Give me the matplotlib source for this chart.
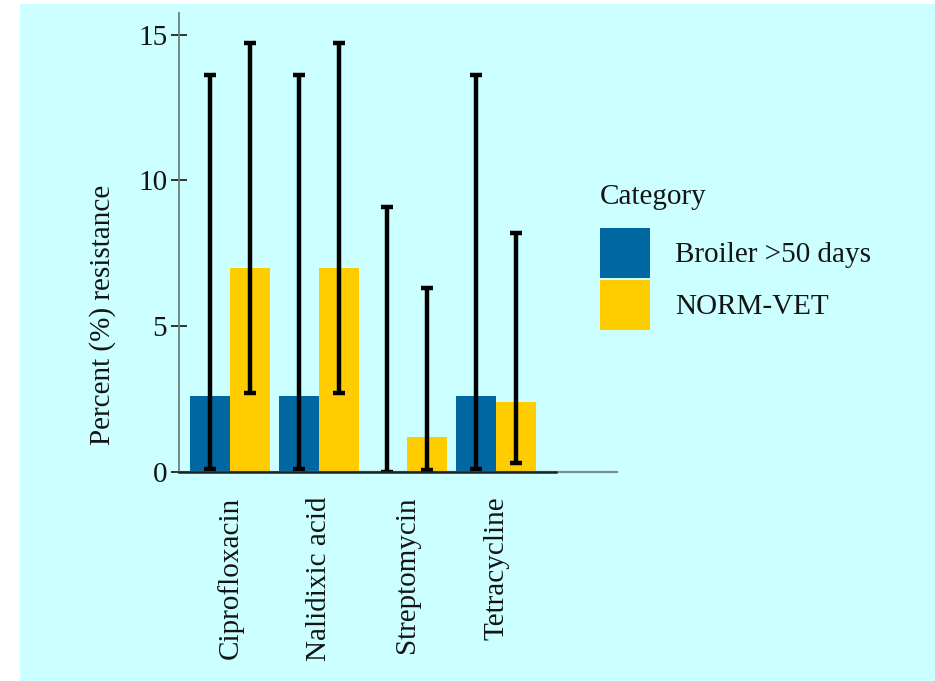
import matplotlib
matplotlib.use("Agg")
import matplotlib.pyplot as plt
from matplotlib.patches import Patch, Rectangle
import numpy as np

# Resistance data per antimicrobial
categories = ["Ciprofloxacin", "Nalidixic acid", "Streptomycin", "Tetracycline"]
series_names = ["Broiler >50 days", "NORM-VET"]

broiler_pct = [2.6, 2.6, 0.0, 2.6]
broiler_low = [0.1, 0.1, 0.0, 0.1]
broiler_high = [13.6, 13.6, 9.1, 13.6]

normvet_pct = [7.0, 7.0, 1.2, 2.4]
normvet_low = [2.7, 2.7, 0.05, 0.3]
normvet_high = [14.7, 14.7, 6.3, 8.2]

y_ticks = [0, 5, 10, 15]

BLUE = "#0067A2"
YELLOW = "#FFCC00"
BG = "#CCFFFF"
TEXT = "#141414"

plt.rcParams["font.family"] = ["Liberation Serif", "DejaVu Serif"]
FS = 21

fig = plt.figure(figsize=(9.35, 6.81), dpi=100)
fig.patch.set_facecolor("white")
# cyan panel behind everything
fig.add_artist(Rectangle((20 / 935, 0), 1 - 20 / 935, 1 - 4 / 681,
                         transform=fig.transFigure, facecolor=BG,
                         edgecolor="none", zorder=-10))

ax = fig.add_axes([179 / 935, 1 - 471.7 / 681, (617 - 179) / 935, (471.7 - 13) / 681])
ax.set_facecolor("none")

x = np.arange(len(categories))
w = 0.45

def draw_series(offset, vals, lo, hi, color):
    vals = np.array(vals)
    ax.bar(x + offset, vals, width=w, color=color, edgecolor="none", zorder=2)
    yerr = np.vstack([np.clip(vals - np.array(lo), 0, None),
                      np.array(hi) - vals])
    ax.errorbar(x + offset, vals, yerr=yerr, fmt="none", ecolor="black",
                elinewidth=3.2, capsize=4.5, capthick=3.2, zorder=3)

draw_series(-w / 2, broiler_pct, broiler_low, broiler_high, BLUE)
draw_series(w / 2, normvet_pct, normvet_low, normvet_high, YELLOW)

ax.set_xlim(-0.575, 4.363)
ax.set_ylim(0, 15.74)

for s in ["top", "right"]:
    ax.spines[s].set_visible(False)
ax.spines["left"].set_color("#6f7f80")
ax.spines["left"].set_linewidth(1.3)
ax.spines["bottom"].set_color("#7d8e8e")
ax.spines["bottom"].set_linewidth(1.6)
# darker baseline under the bar groups
ax.axhline(0, xmin=0, xmax=0.86, color="#1e2424", linewidth=1.8,
           zorder=4, clip_on=False)

ax.set_yticks(y_ticks)
ax.set_yticklabels([str(t) for t in y_ticks], fontsize=FS, color=TEXT)
ax.tick_params(axis="y", direction="inout", length=11, width=1.3,
               color="#222222", pad=3)

ax.set_xticks(x)
ax.set_xticklabels(categories, rotation=90, fontsize=FS, color=TEXT,
                   va="top", ha="center")
ax.tick_params(axis="x", length=0, pad=18)

fig.text(103 / 935, 1 - 315 / 681, "Percent (%) resistance", rotation=90,
         ha="center", va="center", fontsize=FS, color=TEXT)

# legend: title as its own text, entries below it
fig.text(600 / 935, 1 - 197 / 681, "Category", ha="left", va="center",
         fontsize=FS, color=TEXT)
handles = [Patch(facecolor=BLUE, edgecolor="none"),
           Patch(facecolor=YELLOW, edgecolor="none")]
leg = fig.legend(handles, series_names, loc="upper left",
                 bbox_to_anchor=(600 / 935, 1 - 228 / 681), frameon=False,
                 fontsize=FS, borderpad=0,
                 handlelength=1.72, handleheight=2.26, handletextpad=0.85,
                 labelspacing=0.07, borderaxespad=0)
for t in leg.get_texts():
    t.set_color(TEXT)

fig.savefig("out.png", dpi=100, facecolor=fig.get_facecolor())
